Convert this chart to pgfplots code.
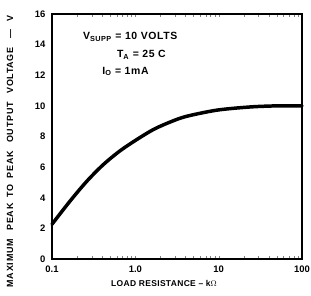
\documentclass[border=0pt]{standalone}
\usepackage{fontspec}
\setmainfont{Liberation Sans}
\usepackage{pgfplots}
\pgfplotsset{compat=1.18}
\begin{document}
\begin{tikzpicture}
\useasboundingbox (-52bp,-37bp) rectangle (259bp,259bp);
\begin{axis}[
  at={(0,0)}, anchor=south west,
  scale only axis, width=250bp, height=245bp,
  xmode=log, xmin=0.1, xmax=100, ymin=0, ymax=16,
  xtick={0.1,1,10,100}, xticklabels={0.1,1.0,10,100},
  ytick={0,2,...,16},
  major tick length=0pt, minor tick num=0,
  /pgf/number format/assume math mode=true,
  tick label style={font=\bfseries\fontsize{9.5}{11}\selectfont},
  xticklabel style={yshift=-3bp},
  yticklabel style={xshift=-3bp},
  clip=false,
]
\addplot[black, line width=3.5pt, smooth, line cap=round] coordinates {
(0.1,2.27) (0.164,3.77) (0.26,5.06) (0.41,6.15) (0.65,7.05) (1.04,7.8)
(1.64,8.45) (2.5,8.9) (4,9.3) (9.5,9.72) (24,9.93) (50,10.0) (100,10.0)};
\draw[line width=2.5pt] (rel axis cs:0,0) rectangle (rel axis cs:1,1);
\node[font=\bfseries\fontsize{10.5}{12}\selectfont\addfontfeature{LetterSpace=6}, anchor=west, inner sep=0pt] at (axis cs:0.235,14.5) {V\textsubscript{SUPP} = 10 VOLTS};
\node[font=\bfseries\fontsize{10.5}{12}\selectfont\addfontfeature{LetterSpace=6}, anchor=west, inner sep=0pt] at (axis cs:0.6,13.35) {T\textsubscript{A} = 25 C};
\node[font=\bfseries\fontsize{10.5}{12}\selectfont\addfontfeature{LetterSpace=6}, anchor=west, inner sep=0pt] at (axis cs:0.4,12.25) {I\textsubscript{O} = 1mA};
\node[font=\bfseries\fontsize{9}{10}\selectfont\addfontfeature{LetterSpace=8}, rotate=90] at (rel axis cs:-0.168,0.44) {\makebox[272bp][s]{MAXIMUM\hfill PEAK\hskip 6bp TO\hskip 6bp PEAK\hfill OUTPUT\hfill VOLTAGE\hfill —\hfill V}};
\node[font=\bfseries\fontsize{8.5}{10}\selectfont\addfontfeature{LetterSpace=4}] at (rel axis cs:0.448,-0.098) {LOAD RESISTANCE – k$\Omega$};
\end{axis}
\end{tikzpicture}
\end{document}
